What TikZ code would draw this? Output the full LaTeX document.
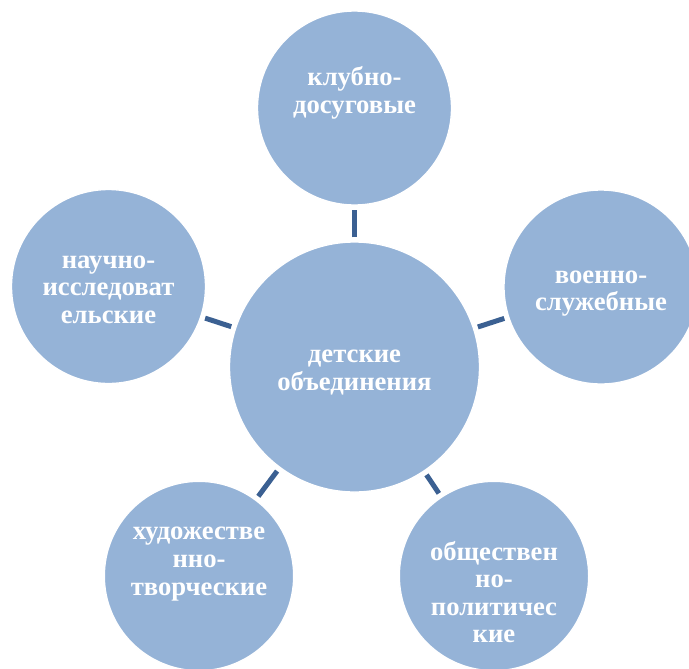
\documentclass[tikz,border=0pt]{standalone}
\usepackage{fontspec}
\setmainfont{Liberation Serif}
\usetikzlibrary{shapes,arrows,positioning}
\definecolor{krug}{HTML}{95B3D7}
\definecolor{linia}{HTML}{3B6092}
\tikzset{
  krugbig/.style={circle, fill=krug, draw=white, line width=1pt, minimum size=187.5pt, inner sep=0pt, outer sep=0pt},
  krugmaly/.style={krugbig, minimum size=145.5pt},
  tekst/.style={text=white, font=\bfseries\fontsize{20}{20.7}\selectfont, align=center, inner sep=0pt},
  svyaz/.style={line width=3.75pt, draw=linia, shorten <=3.5pt, shorten >=3.5pt}
}
\begin{document}
\begin{tikzpicture}[x=0.75pt,y=-0.75pt]
  \useasboundingbox (0,0) rectangle (689,668);
  \clip (0,0) rectangle (689,668);

  \node[krugbig, label={[tekst, yshift=-4pt]center:{детские\\объединения}}] (centr) at (354.5,367) {};
  \node[krugmaly, label={[tekst, yshift=11.25pt]center:{клубно-\\досуговые}}] (klub) at (354.5,108) {};
  \node[krugmaly, label={[tekst, yshift=-2.5pt]center:{научно-\\исследоват\\ельские}}] (nauka) at (108.5,286.5) {};
  \node[krugmaly, label={[tekst, yshift=-5pt]center:{военно-\\служебные}}] (voen) at (601,287) {};
  \node[krugmaly, minimum size=142pt, label={[tekst, yshift=9pt]center:{художестве\\нно-\\творческие}}] (hudo) at (199,576) {};
  \node[krugmaly, minimum size=142pt, label={[tekst, yshift=-12pt]center:{обществен\\но-\\политичес\\кие}}] (obsch) at (494,576) {};

  \draw[svyaz] (centr) -- (klub);
  \draw[svyaz] (centr) -- (nauka);
  \draw[svyaz] (centr) -- (voen);
  \draw[svyaz] (centr) -- (hudo);
  \draw[svyaz] (centr) -- (obsch);
\end{tikzpicture}
\end{document}
